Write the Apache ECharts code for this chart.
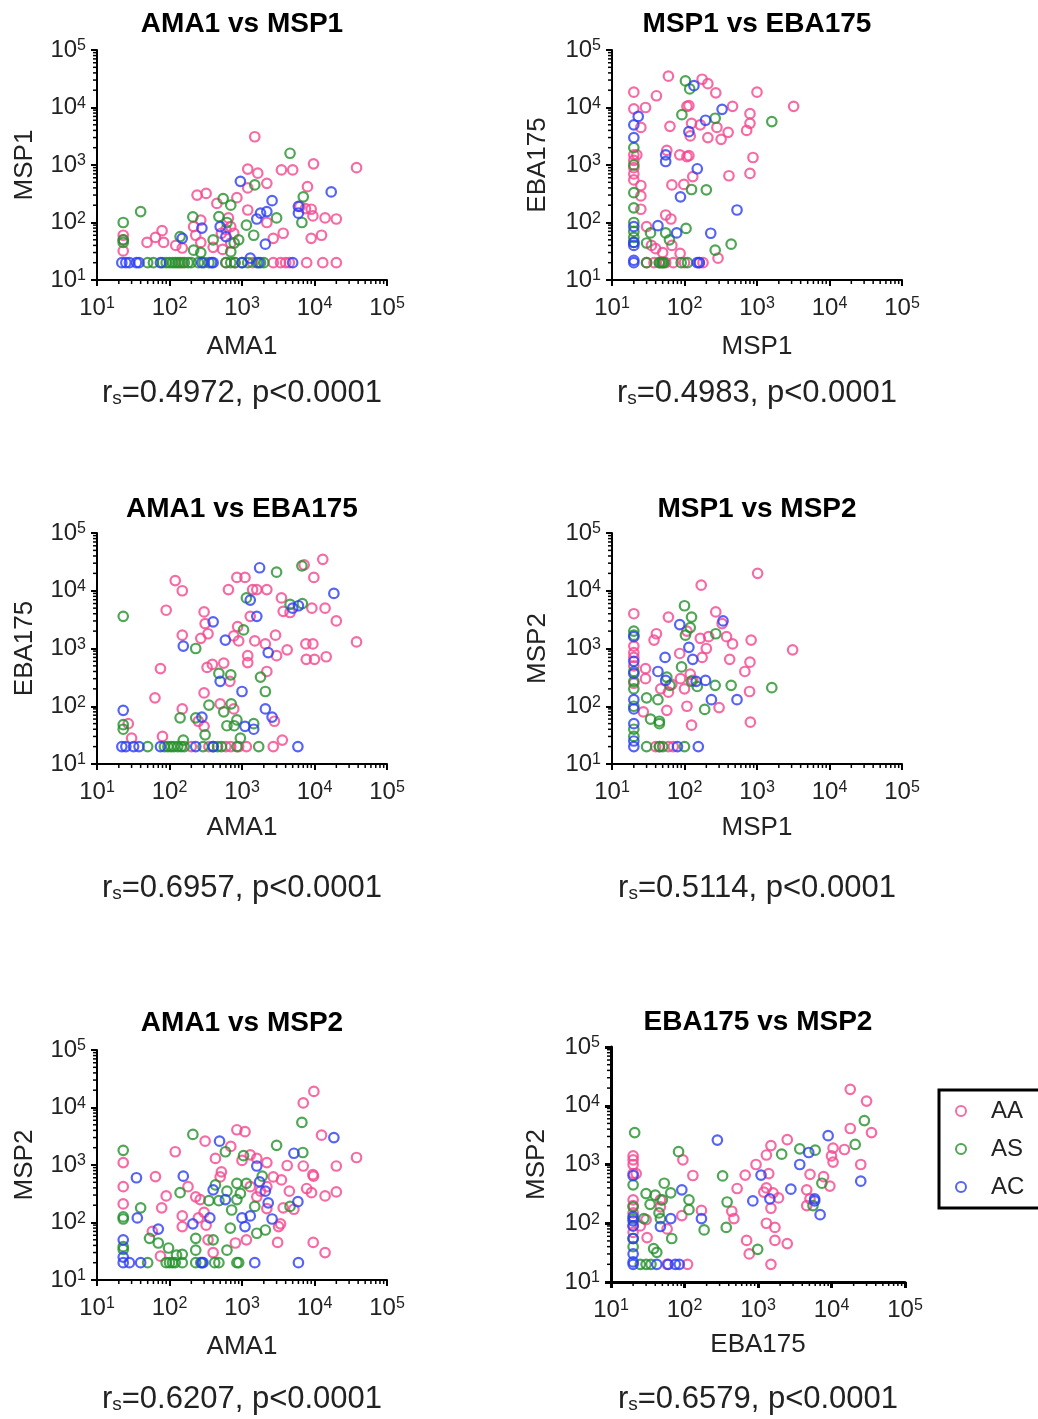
<!DOCTYPE html>
<html><head><meta charset="utf-8">
<script src="https://cdn.jsdelivr.net/npm/echarts@6/dist/echarts.min.js"></script>
<style>html,body{margin:0;padding:0;background:#fff}#c{width:1038px;height:1419px}</style>
</head><body><div id="c"></div>
<script>
// ---------------- DATA ----------------
const groups = ['AA', 'AS', 'AC'];
const panelTitles = ['AMA1 vs MSP1', 'MSP1 vs EBA175', 'AMA1 vs EBA175', 'MSP1 vs MSP2', 'AMA1 vs MSP2', 'EBA175 vs MSP2'];
const xNames = ['AMA1', 'MSP1', 'AMA1', 'MSP1', 'AMA1', 'EBA175'];
const yNames = ['MSP1', 'EBA175', 'EBA175', 'MSP2', 'MSP2', 'MSP2'];
const rsValues = ['0.4972', '0.4983', '0.6957', '0.5114', '0.6207', '0.6579'];
const pTexts = ['p<0.0001', 'p<0.0001', 'p<0.0001', 'p<0.0001', 'p<0.0001', 'p<0.0001'];
const axisMin = 10;
const axisMax = 100000;
const minorTickValues = [20,30,40,50,60,70,80,90,200,300,400,500,600,700,800,900,2000,3000,4000,5000,6000,7000,8000,9000,20000,30000,40000,50000,60000,70000,80000,90000];

// Panel 1: AMA1 vs MSP1
const p1AA = [[1500,3100],[38000,900],[9700,1050],[3500,820],[5000,820],[1200,850],[1650,720],[1200,400],[2200,480],[8000,420],
[240,300],[320,320],[850,270],[450,215],[6300,190],[7500,175],[9000,170],[9500,130],[14000,120],[20000,115],[1200,165],
[270,110],[215,85],[700,85],[770,65],[2200,100],[2700,53],[3700,65],[9000,53],[12500,60],
[49,45],[64,55],[79,72],[83,45],[122,40],[150,36],[270,45],[400,37],[540,34],[700,44],[520,65],[23,60],[23,32],[23,50],
[1400,20],[2700,20],[3400,20],[4000,20],[4500,20],[7800,20],[13000,20],[20000,20],[150,20],[600,20],[800,20],[230,60],[600,75],[650,120]];
const p1AS = [[4600,1600],[1500,450],[7000,280],[6700,100],[3000,120],[1150,90],[1450,60],[550,260],[700,200],[480,127],[620,100],[210,125],
[900,50],[780,44],[400,50],[215,33],[270,30],[700,31],[40,155],[23,100],[23,50],[23,45],[140,57],
[50,20],[60,20],[80,20],[90,20],[100,20],[110,20],[120,20],[130,20],[140,20],[160,20],[180,20],[200,20],[250,20],[300,20],[350,20],[600,20],[700,20],[800,20],[1000,20],[1200,20],[1600,20],[1800,20],[2000,20]];
const p1AC = [[950,520],[17000,340],[2600,240],[2200,155],[1800,145],[1600,115],[6000,190],[6000,145],[500,85],[280,80],[600,57],[2100,42],[150,53],[1300,24],
[22,20],[25,20],[28,20],[35,20],[38,20],[75,20],[280,20],[380,20],[400,20],[1000,20],[1700,20],[5000,20]];

// Panel 2: MSP1 vs EBA175
const p2AA = [[60,35000],[175,31000],[210,26000],[270,18000],[1000,18500],[3200,10500],[20,18500],[41,16000],[29,10000],[20,9500],[108,10500],[115,10800],[460,10500],
[800,7800],[800,5300],[720,4000],[400,3700],[320,2800],[210,3000],[280,4500],[125,5300],[165,5000],[120,3200],[63,4700],[25,4500],
[57,1800],[86,1500],[108,1400],[115,1450],[880,1350],[800,715],[410,650],[130,630],[67,450],[98,460],[25,440],[25,290],[25,170],[55,135],[65,115],
[20,1500],[20,1200],[20,900],[20,700],[20,550],[22,1500],[30,85],[35,40],[40,35],[50,30],[67,40],[87,29],[290,24],
[30,20],[38,20],[45,20],[55,20],[70,20],[100,20],[160,20],[180,20]];
const p2AS = [[103,29000],[118,21000],[92,7500],[265,6500],[1600,5700],[20,2000],[20,1000],[20,330],[20,180],[20,100],[20,70],[20,55],[20,45],
[125,375],[200,370],[105,79],[55,66],[62,50],[34,66],[30,44],[265,33],[440,42],
[30,20],[45,20],[48,20],[50,20],[52,20],[90,20],[110,20]];
const p2AC = [[135,24000],[330,9300],[23,7000],[20,5000],[20,3000],[195,6000],[115,3800],[55,1500],[55,1150],[150,860],[88,280],[530,165],[43,88],[78,66],[230,65],
[20,85],[20,45],[20,40],[20,22],[20,20],[150,20],[160,20]];

// Panel 3: AMA1 vs EBA175
const p3AA = [[120,15000],[150,10000],[90,4600],[300,4300],[310,2700],[150,1700],[270,1500],[340,1800],[75,450],[63,140],[150,90],
[650,10500],[850,17000],[1100,17000],[1400,10500],[1600,10500],[2200,10500],[13000,35000],[7200,28000],[9800,17000],
[3500,7500],[3700,4400],[4600,4200],[9200,5000],[14000,5000],[20000,3000],[38000,1300],[14500,720],[7600,1200],[9500,1200],
[7700,650],[10000,650],[4200,950],[3000,750],[2900,1700],[2100,1200],[1500,1350],[1200,750],[1200,570],[1300,3600],[900,1350],
[870,2400],[770,1650],[560,560],[390,530],[330,470],[680,270],[300,170],[500,110],[770,90],[2200,400],[2800,55],[3600,26],
[2700,20],[1150,20],[27,50],[30,28],[80,30],[300,45],[250,55],[200,20],[350,20],[600,20],[700,20],[900,20]];
const p3AS = [[23,3600],[6700,27000],[3000,21000],[4600,5800],[6800,6000],[1150,7500],[1050,2100],[230,1000],[480,370],[700,350],[1800,320],
[2100,180],[350,105],[710,110],[560,80],[140,63],[230,63],[850,58],[620,46],[780,46],[1450,50],[310,32],[950,28],[155,26],[23,48],[23,40],
[50,20],[85,20],[95,20],[105,20],[115,20],[130,20],[145,20],[160,20],[290,20],[400,20],[460,20],[520,20],[850,20],[1700,20]];
const p3AC = [[1750,25000],[1300,6900],[1600,3600],[5000,5000],[6000,5500],[18500,9000],[400,2900],[590,1400],[155,1100],[2300,850],[500,270],
[1000,180],[2100,90],[2600,65],[280,65],[1100,45],[1450,40],[23,85],
[22,20],[25,20],[32,20],[38,20],[75,20],[230,20],[400,20],[5900,20]];

// Panel 4: MSP1 vs MSP2
const p4AA = [[1020,20000],[170,12500],[270,4300],[60,3500],[20,4000],[330,2700],[41,1800],[38,1400],[108,2000],[165,1500],[215,1600],[200,1000],
[175,700],[380,1600],[460,1200],[830,1400],[3100,950],[420,650],[800,580],[680,400],[790,180],[810,53],[300,95],[108,100],[125,47],
[86,820],[29,450],[29,300],[47,200],[60,175],[67,240],[88,300],[100,200],[120,360],[130,280],[57,85],[27,80],
[20,1100],[20,850],[20,700],[20,500],[20,250],[40,20],[45,20],[60,20],[70,20]];
const p4AS = [[100,5500],[125,3500],[120,2300],[103,1700],[270,1800],[91,480],[124,270],[150,220],[265,230],[440,230],[1600,210],[190,88],
[57,320],[63,230],[30,140],[43,130],[34,60],[45,55],[45,50],
[20,2000],[20,1700],[20,400],[20,270],[20,200],[20,100],[20,40],[20,30],[30,20],[45,20],[50,20],[100,20]];
const p4AC = [[340,3000],[86,2600],[115,1050],[130,650],[54,700],[43,400],[55,280],[145,270],[195,280],[235,130],[530,130],
[20,1600],[20,600],[20,370],[20,130],[20,90],[20,50],[20,25],[20,20],[80,20],[155,20]];

// Panel 5: AMA1 vs MSP2
const p5AA = [[9800,19000],[7000,12000],[12500,3300],[850,4100],[1100,3800],[310,2600],[700,2100],[38000,1350],[7000,960],[9500,680],[9700,640],
[20000,960],[4200,980],[2200,1100],[1600,1300],[1000,1200],[1300,1500],[430,1300],[120,1700],[64,630],[23,1100],[23,420],[23,210],
[90,290],[78,180],[150,130],[150,85],[180,420],[230,280],[265,250],[300,150],[250,120],[320,90],[500,620],[520,760],
[2200,420],[2700,620],[3500,550],[4500,350],[5200,170],[3700,180],[3200,85],[3400,95],[3100,45],[7800,390],[9100,330],[14000,290],
[20000,340],[9600,45],[14000,30],[1150,50],[810,44],[400,30],[75,26],[58,70],[340,50],[1300,420],[1800,350],[1600,280],[2200,175]];
const p5AS = [[6700,5500],[3000,2200],[210,3400],[590,1700],[6900,1650],[1050,1450],[23,1800],[23,125],[23,115],[23,38],[23,34],[140,330],
[430,450],[620,350],[850,480],[1150,480],[1900,640],[350,240],[480,240],[850,250],[950,320],[1500,190],[4600,190],[720,165],
[690,80],[1600,65],[2100,74],[40,180],[53,53],[70,44],[97,36],[125,27],[150,28],[230,53],[230,33],[400,50],[620,33],
[50,20],[90,20],[100,20],[110,20],[120,20],[150,20],[230,20],[270,20],[420,20],[480,20],[850,20],[900,20]];
const p5AC = [[490,2600],[18500,3000],[5200,1600],[1600,960],[155,640],[35,600],[1750,510],[2100,350],[400,370],[590,250],[2300,220],[5900,230],
[360,120],[1000,120],[1300,130],[2600,115],[1100,85],[210,95],[70,77],[36,120],[23,50],[23,25],[23,20],
[28,20],[40,20],[280,20],[290,20],[1500,20],[6000,20]];

// Panel 6: EBA175 vs MSP2
const p6AA = [[18000,19000],[30000,12000],[35000,3500],[18000,4100],[15000,1800],[10500,1900],[10000,1400],[10500,1100],[25000,1000],[9500,430],
[5100,680],[7800,620],[4600,370],[5100,260],[4600,200],[2500,2650],[1500,2100],[1300,1450],[940,1000],[1400,700],[670,660],[520,390],
[1300,400],[1600,330],[1900,270],[1200,340],[1500,180],[440,160],[470,120],[700,51],[760,30],[1700,85],[1700,51],[1300,100],[2500,45],
[1500,20],[130,650],[95,1200],[92,135],[170,165],[31,57],[58,80],[110,20],[58,20],
[20,1400],[20,1200],[20,1000],[20,700],[20,250],[20,200],[20,150],[20,90],[20,70],[22,700],[25,90],[47,250],[47,190],[30,115]];
const p6AS = [[21,3500],[28000,5600],[21000,2200],[3700,1850],[6000,1750],[2100,1500],[83,1650],[330,640],[7400,480],[380,230],[5600,200],
[370,85],[185,77],[67,55],[990,36],[38,37],[42,32],[30,320],[34,210],[53,480],[65,330],[40,300],[50,250],[115,250],[115,170],[45,150],[47,120],[28,120],
[20,450],[20,190],[20,120],[20,55],[20,40],[25,20],[30,20],[35,20]];
const p6AC = [[280,2600],[9000,3100],[25000,520],[4900,1600],[3700,1000],[1100,660],[2800,380],[1450,260],[850,240],[5900,260],[5900,240],[7000,140],
[92,370],[170,120],[65,120],[47,88],
[20,650],[20,130],[20,110],[20,90],[20,55],[20,30],[20,22],[20,20],[42,20],[60,20],[75,20],[85,20]];

const panelData = [[p1AA,p1AS,p1AC],[p2AA,p2AS,p2AC],[p3AA,p3AS,p3AC],[p4AA,p4AS,p4AC],[p5AA,p5AS,p5AC],[p6AA,p6AS,p6AC]];

// ---------------- LAYOUT / STYLE ----------------
const FONT = 'Liberation Sans, Arial, Helvetica, sans-serif';
const groupColors = ['#f5468f', '#23902a', '#2a3df5'];
const gridBoxes = [
  {left: 97, top: 50, width: 290, height: 230},
  {left: 612, top: 50, width: 290, height: 230},
  {left: 97, top: 533, width: 290, height: 231},
  {left: 612, top: 533, width: 290, height: 231},
  {left: 97, top: 1050, width: 290, height: 230},
  {left: 611, top: 1047, width: 294, height: 235}
];
const axisLineWidths = [2, 2, 2, 2, 2, 3];
const titleY = [24, 24, 509, 509, 1023, 1022];
const rsY = [393, 393, 888, 888, 1399, 1399];
const xNameGap = [54, 54, 51, 51, 54, 50];
const yNameGap = [59, 61, 59, 61, 59, 61];

const grid = [], xAxis = [], yAxis = [], series = [], graphic = [];

function supLabel(v) {
  return '10{sup|' + Math.round(Math.log10(v)) + '}';
}
const labelRich = {sup: {fontSize: 16, verticalAlign: 'top', fontFamily: FONT, color: '#222'}};

gridBoxes.forEach((g, i) => {
  const lw = axisLineWidths[i];
  grid.push(Object.assign({containLabel: false}, g));
  const common = {
    type: 'log', logBase: 10, min: axisMin, max: axisMax, splitNumber: 4,
    gridIndex: i,
    axisLine: {show: true, onZero: false, lineStyle: {color: '#000', width: lw}},
    axisTick: {show: true, inside: false, length: 6, lineStyle: {color: '#000', width: lw}},
    splitLine: {show: false},
    minorTick: {show: false},
    nameLocation: 'middle',
    nameTextStyle: {fontSize: 26, color: '#222', fontFamily: FONT},
    axisLabel: {formatter: supLabel, rich: labelRich, fontSize: 24, color: '#222', fontFamily: FONT, showMinLabel: true, showMaxLabel: true}
  };
  xAxis.push(Object.assign({}, common, {
    name: xNames[i], nameGap: xNameGap[i],
    axisLabel: Object.assign({}, common.axisLabel, {margin: 16})
  }));
  yAxis.push(Object.assign({}, common, {
    name: yNames[i], nameGap: yNameGap[i], nameRotate: 90,
    axisLabel: Object.assign({}, common.axisLabel, {margin: 11})
  }));
  groups.forEach((grp, k) => {
    series.push({
      name: grp, type: 'scatter', xAxisIndex: i, yAxisIndex: i,
      data: panelData[i][k], symbol: 'circle', symbolSize: 9.5,
      itemStyle: {color: 'rgba(0,0,0,0)', borderColor: groupColors[k], borderWidth: 2.2},
      emphasis: {disabled: true}, z: 3 + k
    });
  });
  // minor ticks (2..9 per decade) drawn through the axes' own log scale
  series.push({
    type: 'custom', xAxisIndex: i, yAxisIndex: i, silent: true, clip: false, z: 10,
    data: minorTickValues.map(v => [v, axisMin]),
    renderItem: (params, api) => {
      const p = api.coord([api.value(0), api.value(1)]);
      return {type: 'line', shape: {x1: p[0], y1: p[1], x2: p[0], y2: p[1] + 4}, style: {stroke: '#000', lineWidth: 1.5}};
    }
  });
  series.push({
    type: 'custom', xAxisIndex: i, yAxisIndex: i, silent: true, clip: false, z: 10,
    data: minorTickValues.map(v => [axisMin, v]),
    renderItem: (params, api) => {
      const p = api.coord([api.value(0), api.value(1)]);
      return {type: 'line', shape: {x1: p[0], y1: p[1], x2: p[0] - 4, y2: p[1]}, style: {stroke: '#000', lineWidth: 1.5}};
    }
  });
  const cx = g.left + g.width / 2;
  graphic.push({
    type: 'text', x: cx, y: titleY[i],
    style: {text: panelTitles[i], fill: '#000', font: 'bold 28px ' + FONT, align: 'center', verticalAlign: 'middle', textAlign: 'center', textVerticalAlign: 'middle'}
  });
  graphic.push({
    type: 'text', x: cx, y: rsY[i],
    style: {
      text: '{r|r}{s|s}{r|=' + rsValues[i] + ', ' + pTexts[i] + '}',
      align: 'center', verticalAlign: 'middle', textAlign: 'center', textVerticalAlign: 'middle',
      rich: {
        r: {fontSize: 31, fontFamily: FONT, fill: '#222', color: '#222'},
        s: {fontSize: 19, fontFamily: FONT, fill: '#222', color: '#222', verticalAlign: 'bottom'}
      }
    }
  });
});

const chart = echarts.init(document.getElementById('c'), null, {renderer: 'canvas', width: 1038, height: 1419});
chart.setOption({
  backgroundColor: '#fff',
  animation: false,
  grid, xAxis, yAxis, series, graphic,
  legend: {
    data: groups.map((g, k) => ({name: g, icon: 'circle', itemStyle: {color: 'rgba(0,0,0,0)', borderColor: groupColors[k], borderWidth: 2}})),
    orient: 'vertical', left: 939, top: 1090,
    padding: [9, 80, 9, 16], itemGap: 14, itemWidth: 10, itemHeight: 10,
    borderColor: '#000', borderWidth: 3,
    textStyle: {fontSize: 24, color: '#222', fontFamily: FONT, padding: [0, 0, 0, 20]},
    selectedMode: false
  }
});
</script></body></html>
